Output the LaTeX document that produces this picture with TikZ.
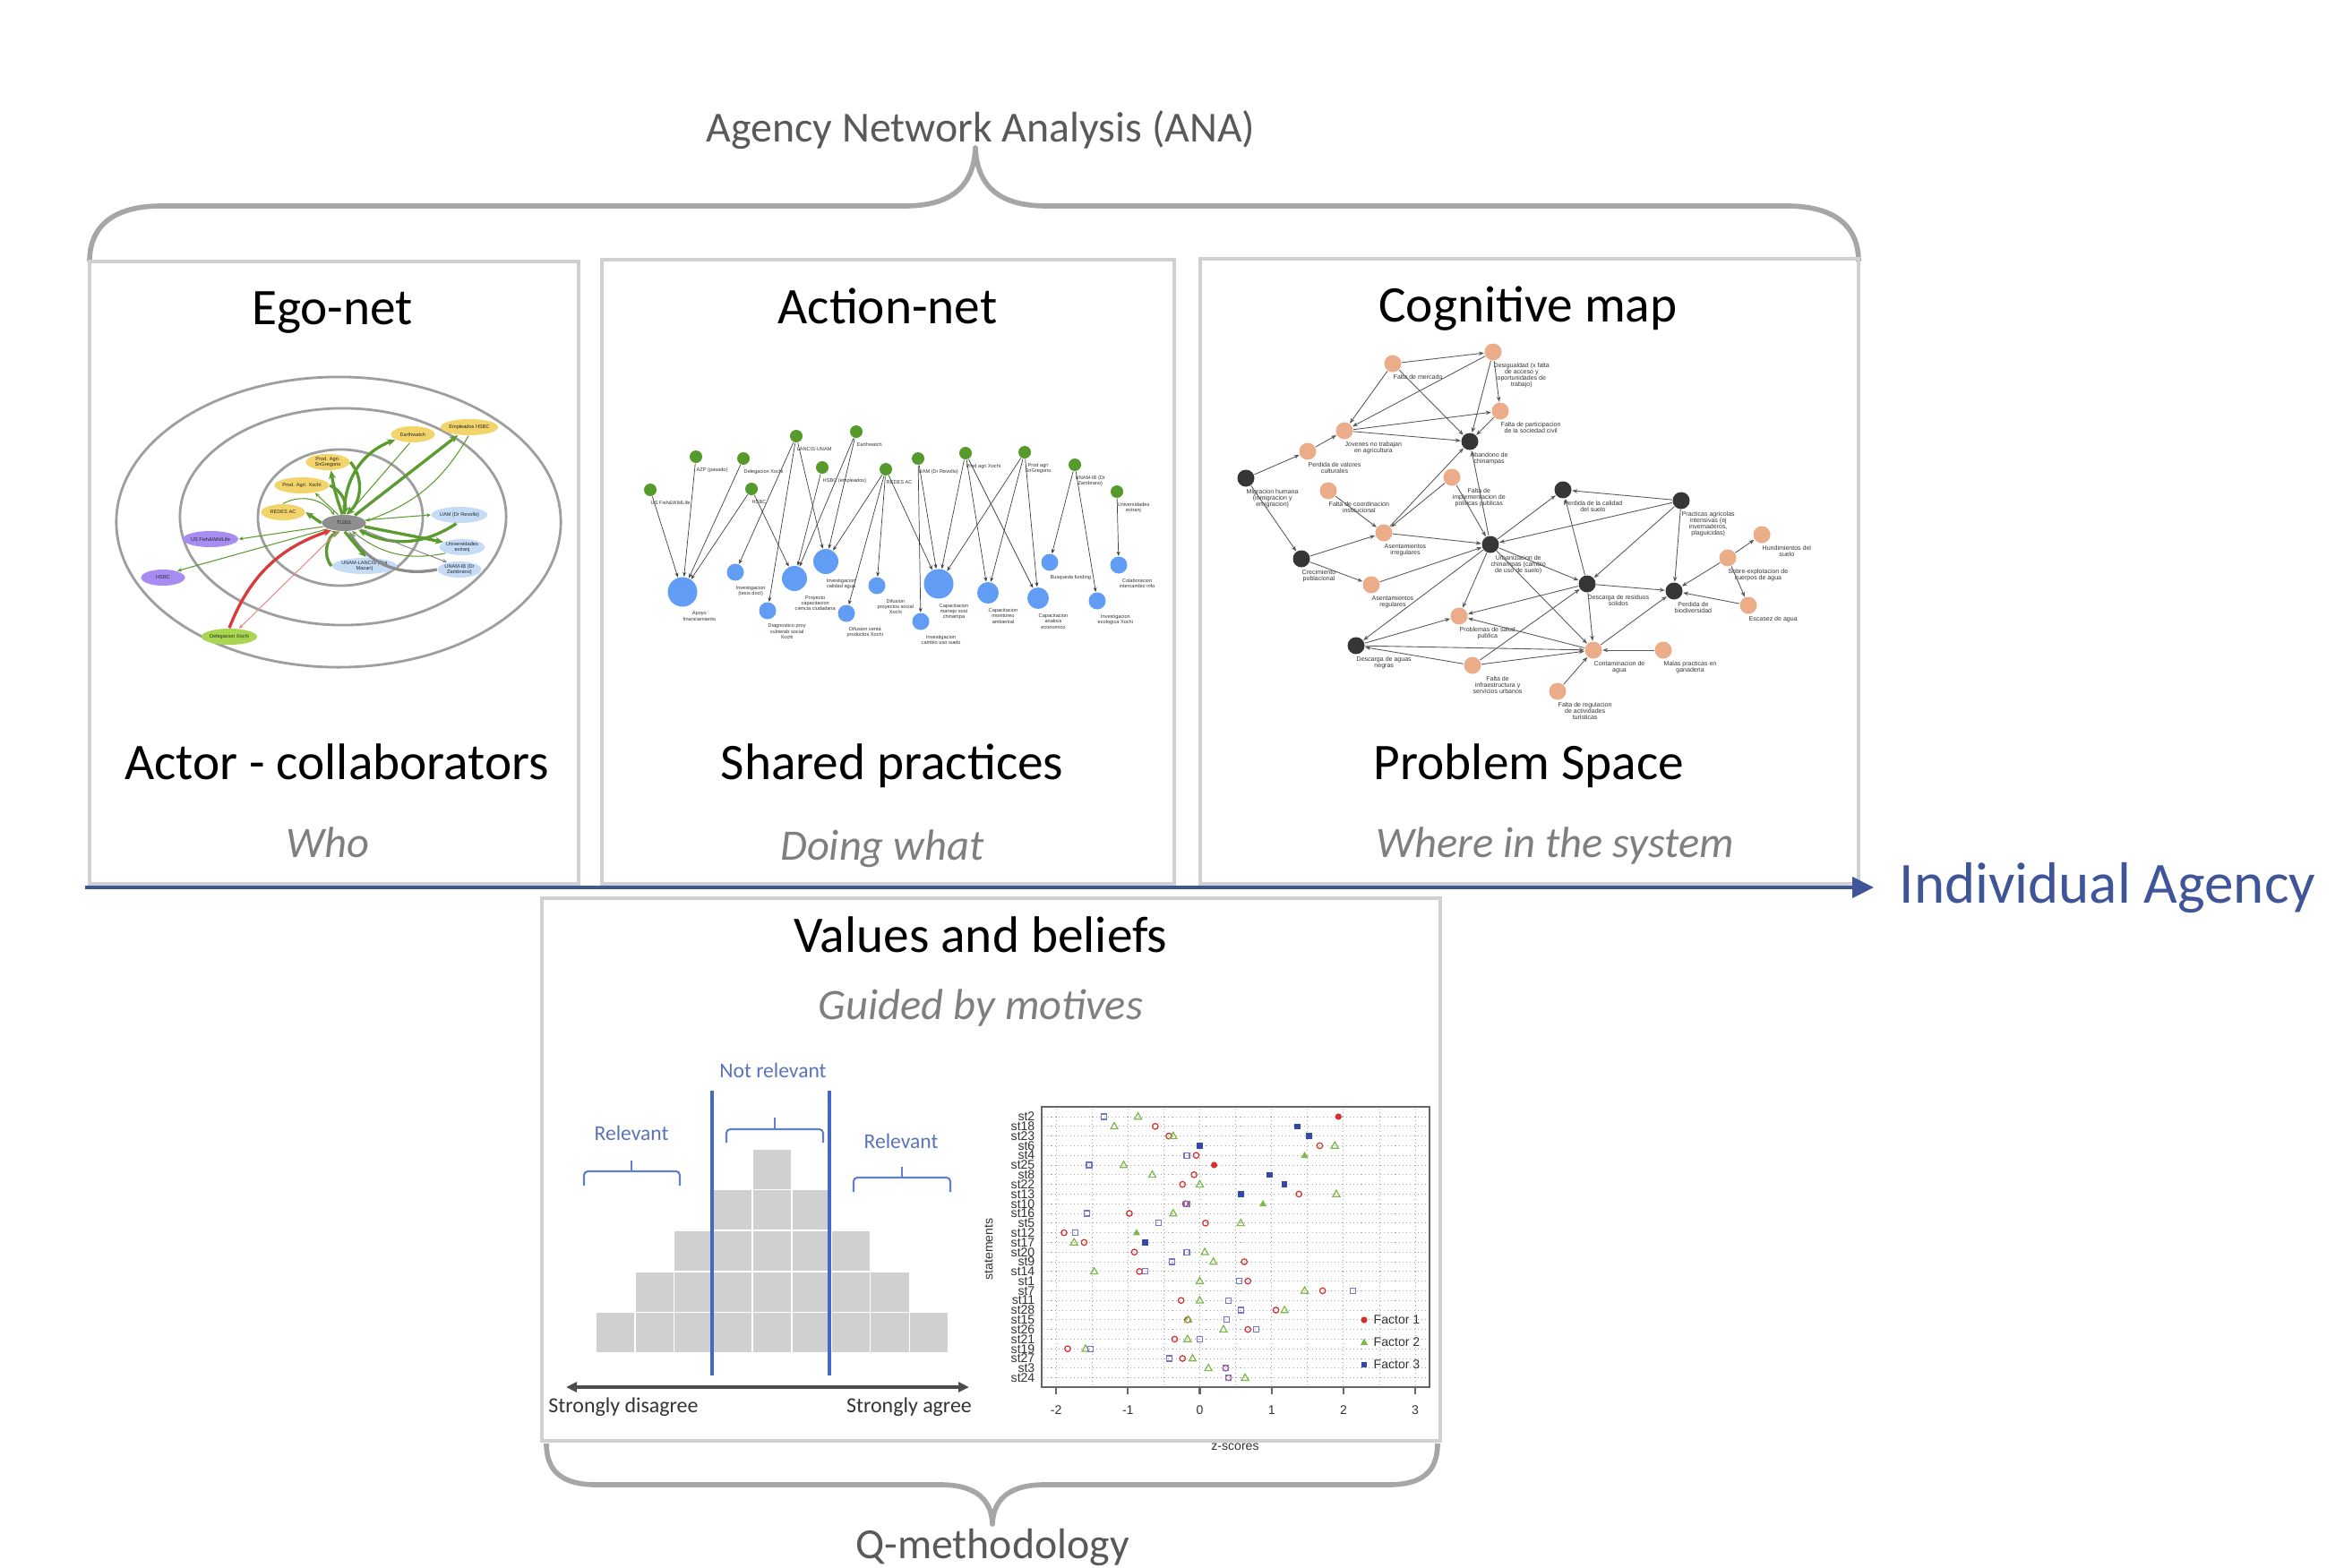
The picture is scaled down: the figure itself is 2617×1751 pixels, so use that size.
\documentclass[tikz,border=0pt]{standalone}
\usepackage{fontspec}
\setmainfont{Carlito}
\newfontfamily\plotfont{Liberation Sans}
\usetikzlibrary{arrows.meta,shapes.geometric,positioning}

\definecolor{titlegrey}{HTML}{595959}
\definecolor{bracegrey}{HTML}{A6A6A6}
\definecolor{boxgrey}{HTML}{D0D0D0}
\definecolor{subgrey}{HTML}{7F7F7F}
\definecolor{agencyblue}{HTML}{3F5597}
\definecolor{egoyellow}{HTML}{F2D46A}
\definecolor{egoblue}{HTML}{C5DCF6}
\definecolor{egopurple}{HTML}{A98CF2}
\definecolor{egogreen}{HTML}{A9D651}
\definecolor{egogrey}{HTML}{8E8E8E}
\definecolor{egoedge}{HTML}{5C9B2F}
\definecolor{egored}{HTML}{D83B3B}
\definecolor{actgreen}{HTML}{579A2C}
\definecolor{actblue}{HTML}{629DF5}
\definecolor{cmorange}{HTML}{EBAC8A}
\definecolor{cmdark}{HTML}{363636}
\definecolor{qcell}{HTML}{D0D0D0}
\definecolor{qblue}{HTML}{4668C5}
\definecolor{qtext}{HTML}{5B74B9}
\definecolor{fone}{HTML}{D42F2F}
\definecolor{ftwo}{HTML}{7DB84A}
\definecolor{fthree}{HTML}{3448A8}
\definecolor{fthreeo}{HTML}{7275D6}

\tikzset{
  panel/.style={draw=boxgrey, line width=1pt},
  bigbrace/.style={draw=bracegrey, line width=1.6pt, line join=round},
  groupname/.style={anchor=base, inner sep=0pt, text=titlegrey, font=\fontsize{13.6}{16}\selectfont},
  heading/.style={anchor=base, inner sep=0pt, font=\fontsize{16.3}{19}\selectfont},
  subheading/.style={anchor=base, inner sep=0pt, text=subgrey, font=\fontsize{13.8}{16}\selectfont\itshape},
  agency/.style={anchor=base west, inner sep=0pt, text=agencyblue, font=\fontsize{18.5}{22}\selectfont},
  agarrow/.style={draw=agencyblue, line width=1.2pt, -{Triangle[length=2.4mm,width=2.3mm]}},
  egoring/.style={draw=black!38, line width=0.8pt},
  egonode/.style={ellipse, inner sep=0pt, minimum width=4.9mm, minimum height=1.8mm, align=center, text=black!85, font=\plotfont\fontsize{1.6}{1.8}\selectfont},
  egothin/.style={draw=egoedge, line width=0.3pt, -{Stealth[length=0.5mm,width=0.45mm]}},
  egothick/.style={draw=egoedge, line width=0.95pt, -{Stealth[length=0.9mm,width=0.8mm]}},
  actor/.style={circle, fill=actgreen, inner sep=0pt, minimum size=1.4mm},
  practice/.style={circle, fill=actblue, inner sep=0pt, minimum size=#1},
  practice/.default=1.9mm,
  actlab/.style={anchor=north west, yshift=-0.4mm, inner sep=0pt, align=center, text=black!80, font=\plotfont\fontsize{1.6}{1.8}\selectfont},
  actedge/.style={draw=black!75, line width=0.2pt, -{Stealth[length=0.5mm,width=0.4mm]}},
  problem/.style={circle, fill=cmorange, inner sep=0pt, minimum size=1.9mm},
  driver/.style={circle, fill=cmdark, inner sep=0pt, minimum size=1.9mm},
  cmlab/.style={anchor=north west, yshift=-0.1mm, inner sep=0pt, align=center, text=black!80, font=\plotfont\fontsize{2}{2}\selectfont},
  cmedge/.style={draw=black!65, line width=0.25pt, -{Stealth[length=0.6mm,width=0.45mm]}},
  qcellc/.style={fill=qcell, draw=white, line width=0.5pt},
  qline/.style={draw=qblue, line width=0.9pt},
  qbrace/.style={draw=qblue!85, line width=0.6pt},
  qword/.style={text=qtext, font=\fontsize{6.7}{8}\selectfont},
  qaxis/.style={draw=black!70, line width=0.9pt, {Triangle[length=1.2mm,width=1.1mm]}-{Triangle[length=1.2mm,width=1.1mm]}},
  qend/.style={text=black!80, font=\fontsize{6.8}{8}\selectfont},
  plotlab/.style={inner sep=0pt, text=black!80, font=\plotfont\fontsize{4}{4}\selectfont},
  plotgrid/.style={draw=black!35, line width=0.25pt, dash pattern=on 0.3pt off 0.9pt},
  plotframe/.style={draw=black!60, line width=0.6pt},
}

\begin{document}
\begin{tikzpicture}[x=0.01cm,y=-0.01cm]
\useasboundingbox (0,0) rectangle (2617,1751);

\node[groupname] (ana) at (1095,158) {Agency Network Analysis (ANA)};
\draw[bigbrace] (100,292) .. controls (100,250) and (130,230) .. (180,230) -- (1010,230)
  .. controls (1060,230) and (1087,210) .. (1089,165)
  .. controls (1091,210) and (1118,230) .. (1168,230) -- (1995,230)
  .. controls (2045,230) and (2075,250) .. (2075,292);

\draw[panel] (100,292) rectangle (646,987);
\draw[panel] (672,290) rectangle (1311,987);
\draw[panel] (1340,289) rectangle (2075,987);

\node[heading] (egotitle) at (371,362) {Ego-net};
\node[heading] (egoname) at (376,870) {Actor - collaborators};
\node[subheading] (egowho) at (366,957) {Who};
\node[heading] (acttitle) at (991,361) {Action-net};
\node[heading] (actname) at (996,870) {Shared practices};
\node[subheading] (actwhat) at (985,960) {Doing what};
\node[heading] (cmtitle) at (1706,359) {Cognitive map};
\node[heading] (cmname) at (1707,870) {Problem Space};
\node[subheading] (cmwhere) at (1736,957) {Where in the system};

% ego-net
\draw[egoring] (378,583) ellipse [x radius=24.8mm, y radius=16.2mm];
\draw[egoring] (383,577) ellipse [x radius=18.2mm, y radius=12.1mm];
\draw[egoring] (380,578) ellipse [x radius=9.2mm, y radius=7.6mm];

\node[egonode, fill=egogrey] (tl) at (384,584) {TL001};
\node[egonode, fill=egoyellow] (eearth) at (461,485) {Earthwatch};
\node[egonode, fill=egoyellow] (eemp) at (524,477) {Empleados HSBC};
\node[egonode, fill=egoyellow] (esng) at (366,516) {Prod. Agri.\\SnGregorio};
\node[egonode, fill=egoyellow] (epax) at (337,542) {Prod. Agri. Xochi};
\node[egonode, fill=egoyellow] (eredes) at (316,572) {REDES AC};
\node[egonode, fill=egoblue] (euam) at (513,575) {UAM (Dr Revollo)};
\node[egonode, fill=egoblue] (euniv) at (516,611) {Universidades\\extranj};
\node[egonode, fill=egoblue] (eib) at (513,636) {UNAM-IB (Dr\\Zambrano)};
\node[egonode, fill=egoblue] (elancis) at (407,632) {UNAM-LANCIS (Dra\\Mazari)};
\node[egonode, fill=egopurple] (eusf) at (235,602) {US Fish\&WildLife};
\node[egonode, fill=egopurple] (ehsbc) at (182,645) {HSBC};
\node[egonode, fill=egogreen] (edeleg) at (256,711) {Delegacion Xochi};

\draw[egothick] (tl) to[bend left=35] (eearth);
\draw[egothin] (eearth.250) -- (tl.65);
\draw[egothick] (tl.35) -- (eemp.215);
\draw[egothin] (eemp.265) to[bend left=20] (tl.5);
\draw[egothick] (esng.east) to[bend left=45] (tl.75);
\draw[egothick] (tl.100) to[bend left=5] (esng.-70);
\draw[egothick] (epax.east) to[bend left=40] (tl.90);
\draw[egothin] (tl.125) -- (epax.-30);
\draw[egothin] (eredes.north) to[bend left=40] (tl.140);
\draw[egothick] (tl.180) -- (eredes.east);
\draw[egothin] (tl.8) -- (euam.west);
\draw[egothick] (euam.250) to[bend left=30] (tl.-25);
\draw[egothick] (tl.-10) -- (euniv.165);
\draw[egothin] (euniv.200) to[bend left=25] (tl.-45);
\draw[egothin, draw=black!45] (tl.-20) -- (eib.150);
\draw[egothick, draw=black!45] (eib.west) to[bend left=35] (tl.-60);
\draw[egothick] (tl.-85) -- (elancis.80);
\draw[egothick] (elancis.west) to[bend left=55] (tl.-115);
\draw[egothin] (tl.190) -- (eusf.east);
\draw[egothin] (tl.200) -- (ehsbc.25);
\draw[egothick, draw=egored] (edeleg.north) to[bend left=25] (tl.210);
\draw[egothin, draw=egored!60] (tl.-125) -- (edeleg.40);

% action-net
\node[actor, label={[actlab]south:{US Fish\&WildLife}}] (ausf) at (726,547) {};
\node[actor, label={[actlab]south:{AZP (pasado)}}] (aazp) at (777,510) {};
\node[actor, label={[actlab]south:{Delegacion Xochi}}] (adel) at (830,512) {};
\node[actor, label={[actlab]south:{HSBC}}] (ahsbc) at (839,546) {};
\node[actor, label={[actlab]south:{LANCIS-UNAM}}] (alan) at (889,487) {};
\node[actor, label={[actlab]south:{Earthwatch}}] (aearth) at (956,482) {};
\node[actor, label={[actlab]south:{HSBC (empleados)}}] (ahsbce) at (918,522) {};
\node[actor, label={[actlab]south:{REDES AC}}] (aredes) at (989,524) {};
\node[actor, label={[actlab]south:{UAM (Dr Revollo)}}] (auam) at (1025,512) {};
\node[actor, label={[actlab]south:{Prod agri Xochi}}] (apax) at (1078,506) {};
\node[actor, label={[actlab]south:{Prod agri\\SnGregorio}}] (apsg) at (1144,505) {};
\node[actor, label={[actlab]south:{UNAM-IB (Dr\\Zambrano)}}] (aib) at (1200,519) {};
\node[actor, label={[actlab]south:{Universidades\\extranj}}] (auniv) at (1247,549) {};

\node[practice=3.3mm, label={[actlab]south:{Apoyo\\financiamiento}}] (aapoyo) at (762,661) {};
\node[practice, label={[actlab]south:{Investigacion\\(tesis doct)}}] (atesis) at (821,639) {};
\node[practice, label={[actlab]south:{Diagnostico proy\\vulnerab social\\Xochi}}] (adiag) at (857,682) {};
\node[practice=2.8mm, label={[actlab]south:{Proyecto\\capacitacion\\ciencia ciudadana}}] (aproy) at (887,646) {};
\node[practice=2.8mm, label={[actlab]south:{Investigacion\\calidad agua}}] (acal) at (922,627) {};
\node[practice, label={[actlab]south:{Difusion venta\\productos Xochi}}] (aventa) at (945,685) {};
\node[practice, label={[actlab]south:{Difusion\\proyectos social\\Xochi}}] (adifp) at (979,654) {};
\node[practice, label={[actlab]south:{Investigacion\\cambio uso suelo}}] (acambio) at (1028,694) {};
\node[practice=3.3mm, label={[actlab]south:{Capacitacion\\manejo sost\\chinampa}}] (amanejo) at (1048,652) {};
\node[practice=2.4mm, label={[actlab]south:{Capacitacion\\monitoreo\\ambiental}}] (amonit) at (1103,662) {};
\node[practice=2.4mm, label={[actlab]south:{Capacitacion\\analisis\\economico}}] (aanal) at (1159,668) {};
\node[practice, label={[actlab]south:{Busqueda funding}}] (abusq) at (1172,628) {};
\node[practice, label={[actlab]south:{Investigacion\\ecologica Xochi}}] (aecol) at (1225,671) {};
\node[practice, label={[actlab]south:{Colaboracion\\intercambio info}}] (acolab) at (1249,631) {};

\foreach \a/\b in {ausf/aapoyo, aazp/aapoyo, adel/aapoyo, ahsbc/aapoyo, ahsbc/aproy,
    alan/atesis, alan/adiag, alan/acal, aearth/aproy, aearth/acal, ahsbce/aproy,
    aredes/acal, aredes/aventa, aredes/adifp, aredes/amanejo, auam/acambio, auam/amanejo,
    apax/amanejo, apax/amonit, apax/aanal, apsg/amanejo, apsg/amonit, apsg/aanal,
    aib/abusq, aib/aecol, auniv/acolab}
  \draw[actedge] (\a) -- (\b);

% cognitive map
\node[problem, label={[cmlab]south:{Falta de mercado}}] (cfm) at (1555,406) {};
\node[problem, label={[cmlab]south:{Desigualdad (x falta\\de acceso y\\oportunidades de\\trabajo)}}] (cdes) at (1667,393) {};
\node[problem, label={[cmlab]south:{Falta de participacion\\de la sociedad civil}}] (cfpart) at (1675,459) {};
\node[problem, label={[cmlab]south:{Jovenes no trabajan\\en agricultura}}] (cjov) at (1501,481) {};
\node[driver, label={[cmlab]south:{Abandono de\\chinampas}}] (caband) at (1641,493) {};
\node[problem, label={[cmlab]south:{Perdida de valores\\culturales}}] (cpval) at (1460,504) {};
\node[driver, label={[cmlab]south:{Migracion humana\\(inmigracion y\\emigracion)}}] (cmigr) at (1391,534) {};
\node[problem, label={[cmlab]south:{Falta de coordinacion\\institucional}}] (cfcoord) at (1483,548) {};
\node[problem, label={[cmlab]south:{Falta de\\implementacion de\\politicas publicas}}] (cfimpl) at (1621,533) {};
\node[problem, label={[cmlab]south:{Asentamientos\\irregulares}}] (cairr) at (1545,595) {};
\node[driver, label={[cmlab]south:{Urbanizacion de\\chinampas (cambio\\de uso de suelo)}}] (curb) at (1664,608) {};
\node[driver, label={[cmlab]south:{Crecimiento\\poblacional}}] (ccrec) at (1453,624) {};
\node[problem, label={[cmlab]south:{Asentamientos\\regulares}}] (careg) at (1531,653) {};
\node[problem, label={[cmlab]south:{Problemas de salud\\publica}}] (csalud) at (1629,688) {};
\node[driver, label={[cmlab]south:{Descarga de aguas\\negras}}] (caguas) at (1514,721) {};
\node[problem, label={[cmlab]south:{Falta de\\infraestructura y\\servicios urbanos}}] (cfinfra) at (1644,743) {};
\node[driver, label={[cmlab]south:{Perdida de la calidad\\del suelo}}] (ccsuelo) at (1745,547) {};
\node[driver, label={[cmlab]south:{Practicas agricolas\\intensivas (ej\\invernaderos,\\plaguicidas)}}] (cpract) at (1877,559) {};
\node[problem, label={[cmlab]south:{Hundimientos del\\suelo}}] (chund) at (1967,597) {};
\node[problem, label={[cmlab]south:{Sobre-explotacion de\\cuerpos de agua}}] (csobre) at (1929,623) {};
\node[driver, label={[cmlab]south:{Descarga de residuos\\solidos}}] (cresid) at (1772,652) {};
\node[driver, label={[cmlab]south:{Perdida de\\biodiversidad}}] (cbiod) at (1869,660) {};
\node[problem, label={[cmlab]south:{Escasez de agua}}] (cescas) at (1952,676) {};
\node[problem, label={[cmlab]south:{Contaminacion de\\agua}}] (ccontam) at (1779,726) {};
\node[problem, label={[cmlab]south:{Malas practicas en\\ganaderia}}] (cmalas) at (1857,726) {};
\node[problem, label={[cmlab]south:{Falta de regulacion\\de actividades\\turisticas}}] (cfreg) at (1739,772) {};

\foreach \a/\b in {cfm/cdes, cfm/cjov, cfm/caband, cdes/cjov, cdes/caband, cdes/cfpart,
    cfpart/caband, cjov/cfpart, cjov/caband, cpval/cjov, cmigr/cpval, cmigr/ccrec,
    cfcoord/cairr, cfimpl/cairr, cfimpl/curb, cairr/caband, cairr/curb, ccrec/cairr,
    ccrec/careg, careg/curb, curb/caband, curb/csalud, curb/caguas, caguas/csalud,
    cfinfra/caguas, cpract/curb, curb/ccsuelo, curb/cresid, curb/ccontam, cresid/csalud,
    cfinfra/cresid, ccontam/csalud, caguas/ccontam, cfinfra/ccontam, cresid/ccsuelo,
    cpract/ccsuelo, cpract/cresid, cpract/cbiod, cresid/cbiod, cresid/ccontam,
    ccontam/cbiod, csobre/cbiod, csobre/chund, csobre/cescas, cescas/cbiod,
    cmalas/ccontam, cfreg/ccontam}
  \draw[cmedge] (\a) -- (\b);

% individual agency axis
\coordinate (agstart) at (95,991);
\coordinate (agend) at (2092,991);
\draw[agarrow] (agstart) -- (agend);
\node[agency] (agency) at (2120,1008) {Individual Agency};

% values and beliefs
\node[heading] (vbtitle) at (1095,1063) {Values and beliefs};
\node[subheading] (vbwhy) at (1095,1138) {Guided by motives};

\foreach \h [count=\c] in {1,2,3,4,5,4,3,2,1}
  \foreach \r in {1,...,\h}
    \fill[qcellc] ({665+(\c-1)*43.8},{1511-(\r-1)*45.6}) rectangle ++(43.8,-45.6);

\coordinate (qla) at (795,1218);
\coordinate (qlb) at (795,1536);
\coordinate (qra) at (926,1218);
\coordinate (qrb) at (926,1536);
\draw[qline] (qla) -- (qlb);
\draw[qline] (qra) -- (qrb);

\draw[qbrace, rounded corners=1.2pt] (652,1324) -- (652,1308) -- (759,1308) -- (759,1324);
\draw[qbrace] (705,1308) -- (705,1296);
\draw[qbrace, rounded corners=1.2pt] (811,1276) -- (811,1261) -- (919,1261) -- (919,1276);
\draw[qbrace] (865,1261) -- (865,1248);
\draw[qbrace, rounded corners=1.2pt] (953,1331) -- (953,1315) -- (1061,1315) -- (1061,1331);
\draw[qbrace] (1007,1315) -- (1007,1303);

\node[qword] (qrelleft) at (705,1265) {Relevant};
\node[qword] (qnotrel) at (863,1195) {Not relevant};
\node[qword] (qrelright) at (1006,1274) {Relevant};

\coordinate (qaxl) at (632,1549);
\coordinate (qaxr) at (1082,1549);
\draw[qaxis] (qaxl) -- (qaxr);
\node[qend] (qdis) at (696,1571) {Strongly disagree};
\node[qend] (qagr) at (1015,1571) {Strongly agree};

% factor scores
\foreach \gx in {-2,-1.5,...,3}
  \draw[plotgrid] ({1339.5+80.2*\gx},1238) -- ({1339.5+80.2*\gx},1547);
\foreach \stname/\za/\zb/\zc/\zf [count=\i] in {
    st2/1.93/-0.86/-1.33/1, st18/-0.62/-1.19/1.36/3, st23/-0.43/-0.37/1.52/3,
    st6/1.67/1.88/0/3, st4/-0.05/1.46/-0.18/2, st25/0.2/-1.06/-1.54/1,
    st8/-0.08/-0.66/0.97/3, st22/-0.24/0/1.18/3, st13/1.38/1.9/0.57/3,
    st10/-0.2/0.88/-0.18/2, st16/-0.98/-0.37/-1.57/0, st5/0.08/0.57/-0.57/0,
    st12/-1.89/-0.88/-1.73/2, st17/-1.61/-1.75/-0.76/3, st20/-0.91/0.07/-0.18/0,
    st9/0.62/0.19/-0.39/0, st14/-0.84/-1.47/-0.76/0, st1/0.67/0/0.55/0,
    st7/1.71/1.46/2.13/0, st11/-0.26/0/0.4/0, st28/1.06/1.18/0.57/0,
    st15/-0.17/-0.16/0.37/0, st26/0.67/0.33/0.79/0, st21/-0.35/-0.17/0/0,
    st19/-1.84/-1.59/-1.52/0, st27/-0.24/-0.1/-0.42/0, st3/0.36/0.12/0.36/0,
    st24/0.4/0.63/0.4/0} {
  \pgfmathsetmacro\yy{1247+(\i-1)*10.8}
  \pgfmathsetmacro\xa{1339.5+80.2*\za}
  \pgfmathsetmacro\xb{1339.5+80.2*\zb}
  \pgfmathsetmacro\xc{1339.5+80.2*\zc}
  \draw[plotgrid] (1165,\yy) -- (1594,\yy);
  \node[plotlab, anchor=east] (st\i) at (1156,\yy) {\stname};
  \ifnum\zf=1 \fill[fone] (\xa,\yy) circle[radius=0.36mm];
  \else \draw[fone, line width=0.35pt] (\xa,\yy) circle[radius=0.32mm]; \fi
  \ifnum\zf=2 \fill[ftwo] (\xb,{\yy-4.3}) -- ({\xb+4},{\yy+2.8}) -- ({\xb-4},{\yy+2.8}) -- cycle;
  \else \draw[ftwo, line width=0.35pt] (\xb,{\yy-4.3}) -- ({\xb+4},{\yy+2.8}) -- ({\xb-4},{\yy+2.8}) -- cycle; \fi
  \ifnum\zf=3 \fill[fthree] ({\xc-3.3},{\yy-3.3}) rectangle ({\xc+3.3},{\yy+3.3});
  \else \draw[fthreeo, line width=0.35pt] ({\xc-3},{\yy-3}) rectangle ({\xc+3},{\yy+3}); \fi
}
\draw[plotframe] (1163,1236) rectangle (1596,1549);
\foreach \tk [count=\k] in {-2,-1,0,1,2,3} {
  \draw[plotframe] ({1339.5+80.2*\tk},1549) -- ({1339.5+80.2*\tk},1557);
  \node[plotlab] (tick\k) at ({1339.5+80.2*\tk},1575) {\tk};
}
\fill[fone] (1523,1474) circle[radius=0.36mm];
\node[plotlab, anchor=west] (fac1) at (1533,1474) {Factor 1};
\fill[ftwo] (1523,1494.5) -- (1527,1502) -- (1519,1502) -- cycle;
\node[plotlab, anchor=west] (fac2) at (1533,1499) {Factor 2};
\fill[fthree] (1519.7,1520.7) rectangle (1526.3,1527.3);
\node[plotlab, anchor=west] (fac3) at (1533,1524) {Factor 3};
\node[plotlab, rotate=90] (statements) at (1104,1395) {statements};
\node[plotlab] (zscores) at (1379,1616) {z-scores};

\draw[panel] (605,1003) rectangle (1608,1609);
\draw[bigbrace] (610,1612) .. controls (610,1645) and (630,1658) .. (666,1658) -- (1050,1658)
  .. controls (1090,1658) and (1107,1675) .. (1108,1702)
  .. controls (1109,1675) and (1126,1658) .. (1166,1658) -- (1550,1658)
  .. controls (1586,1658) and (1605,1645) .. (1605,1612);
\node[groupname] (qmeth) at (1108,1740) {Q-methodology};
\end{tikzpicture}
\end{document}
